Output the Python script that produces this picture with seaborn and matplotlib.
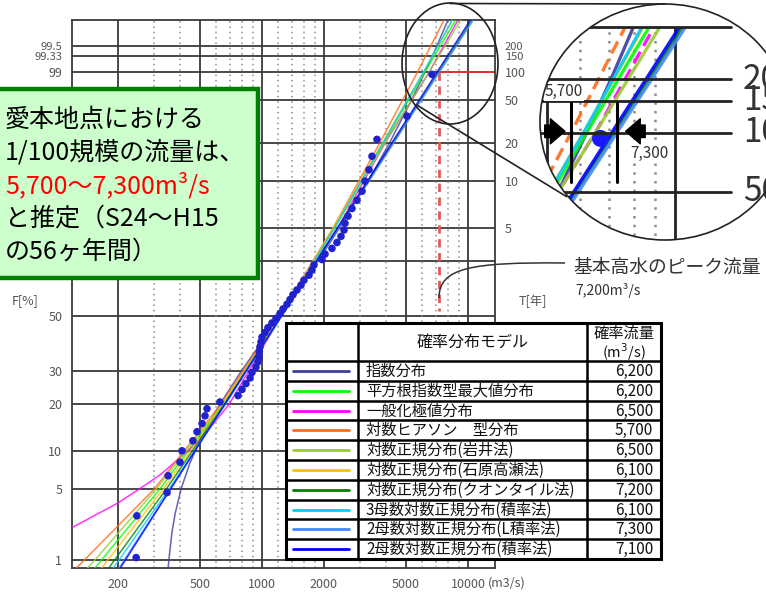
import math
import numpy as np
import pandas as pd
import seaborn as sns
import matplotlib
matplotlib.use("Agg")
import matplotlib.pyplot as plt
from matplotlib.patches import Rectangle, Ellipse, PathPatch
from matplotlib.path import Path
from matplotlib.lines import Line2D
from matplotlib.ticker import FixedLocator, FixedFormatter, NullLocator

W, H = 766, 594

# ---- observed annual peaks (plotting position %, flow m3/s) ----
obs_F = [1.07, 2.85, 4.63, 6.41, 8.19, 9.96, 11.74, 13.52, 15.30, 17.08,
         18.86, 20.64, 22.42, 24.20, 25.98, 27.76, 29.54, 31.32, 33.10, 34.88,
         36.65, 38.43, 40.21, 41.99, 43.77, 45.55, 47.33, 49.11, 50.89, 52.67,
         54.45, 56.23, 58.01, 59.79, 61.57, 63.35, 65.12, 66.90, 68.68, 70.46,
         72.24, 74.02, 75.80, 77.58, 79.36, 81.14, 82.92, 84.70, 86.48, 88.26,
         90.04, 91.81, 93.59, 95.37, 97.15, 98.93]
obs_Q = [245, 247, 346, 350, 400, 409, 462, 484, 512, 529,
         541, 625, 765, 800, 836, 875, 894, 935, 956, 967,
         970, 978, 989, 1000, 1034, 1069, 1118, 1170, 1223, 1265,
         1323, 1368, 1414, 1479, 1547, 1599, 1691, 1749, 1789, 1956,
         2023, 2187, 2313, 2419, 2502, 2529, 2616, 2735, 2893, 3060,
         3163, 3307, 3420, 3617, 5056, 6688]

# ---- fitted distributions ----
models = ["指数分布", "平方根指数型最大値分布", "一般化極値分布", "対数ヒアソン　型分布",
          "対数正規分布(岩井法)", "対数正規分布(石原高瀬法)", "対数正規分布(クオンタイル法)",
          "3母数対数正規分布(積率法)", "2母数対数正規分布(L積率法)", "2母数対数正規分布(積率法)"]
colors = ["#3c3c9c", "#00ff00", "#ff00ff", "#ff6a1a", "#99cc33",
          "#ffc000", "#008000", "#00ccff", "#4488ff", "#0000ff"]
q100 = ["6,200", "6,200", "6,500", "5,700", "6,500", "6,100", "7,200", "6,100", "7,300", "7,100"]

fit_F = [0.5, 1, 5, 20, 50, 80, 95, 99, 99.8]
exp_F = [0.8, 1, 2, 3, 5, 8, 12, 20, 30, 50, 70, 80, 90, 95, 98, 99, 99.5, 99.8]
exp_Q = [350, 353, 366, 379, 405, 446, 503, 624, 794, 1222, 1872, 2387, 3269, 4151, 5316, 6200, 7079, 8245]
gev_F = [1.5, 2.2, 3.75, 5, 6.5, 9, 12, 20, 50, 80, 95, 99, 99.8]
gev_Q = [80, 120, 200, 255, 320, 405, 505, 692, 1240, 2340, 3950, 6500, 9300]
sqet_Q = [130, 166, 320, 646, 1225, 2234, 3890, 6200, 9080]
lp3_Q = [102, 137, 301, 630, 1215, 2218, 3724, 5700, 7930]
iwai_Q = [118, 154, 308, 644, 1245, 2270, 3954, 6500, 9640]
ishi_Q = [142, 178, 333, 649, 1230, 2223, 3836, 6100, 8770]
quan_Q = [156, 192, 344, 656, 1245, 2339, 4306, 7200, 10940]
ln3_Q = [164, 202, 355, 665, 1236, 2254, 3855, 6100, 8710]
ln2l_Q = [177, 214, 359, 660, 1250, 2367, 4355, 7300, 11100]
ln2m_Q = [180, 217, 361, 659, 1240, 2332, 4259, 7100, 10740]

curves = [(exp_F, exp_Q), (fit_F, sqet_Q), (gev_F, gev_Q), (fit_F, lp3_Q),
          (fit_F, iwai_Q), (fit_F, ishi_Q), (fit_F, quan_Q), (fit_F, ln3_Q),
          (fit_F, ln2l_Q), (fit_F, ln2m_Q)]

grid_F = [1, 5, 10, 20, 30, 50, 70, 80, 90, 95, 98, 99, 99.333, 99.5]
F_ticks = [1, 5, 10, 20, 30, 50, 99, 99.333, 99.5]
F_labels = ["1", "5", "10", "20", "30", "50", "99", "99.33", "99.5"]
T_ticks = [80, 90, 95, 98, 99, 99.333, 99.5]
T_labels = ["5", "10", "20", "50", "100", "150", "200"]
x_ticks = [200, 500, 1000, 2000, 5000, 10000]
x_labels = ["200", "500", "1000", "2000", "5000", "10000"]
x_solid = [200, 500, 1000, 2000, 5000, 10000]
x_dotted = [300, 400, 600, 700, 800, 900, 1200, 1400, 1600, 1800,
            3000, 4000, 6000, 7000, 8000, 9000]
Q_basic = 7200

# ---- normal probability scale ----
_A = [-3.969683028665376e+01, 2.209460984245205e+02, -2.759285104469687e+02,
      1.383577518672690e+02, -3.066479806614716e+01, 2.506628277459239e+00]
_B = [-5.447609879822406e+01, 1.615858368580409e+02, -1.556989798598866e+02,
      6.680131188771972e+01, -1.328068155288572e+01]
_C = [-7.784894002430293e-03, -3.223964580411365e-01, -2.400758277161838e+00,
      -2.549732539343734e+00, 4.374664141464968e+00, 2.938163982698783e+00]
_D = [7.784695709041462e-03, 3.224671290700398e-01, 2.445134137142996e+00,
      3.754408661907416e+00]


def probit(F):
    shape = np.shape(F)
    p = np.clip(np.atleast_1d(np.asarray(F, dtype=float)) / 100.0, 1e-12, 1 - 1e-12)
    z = np.empty_like(p)
    lo = p < 0.02425
    hi = p > 1 - 0.02425
    mid = ~(lo | hi)
    q = p[mid] - 0.5
    r = q * q
    z[mid] = (((((_A[0]*r+_A[1])*r+_A[2])*r+_A[3])*r+_A[4])*r+_A[5])*q / \
             (((((_B[0]*r+_B[1])*r+_B[2])*r+_B[3])*r+_B[4])*r+1)
    q = np.sqrt(-2*np.log(p[lo]))
    z[lo] = (((((_C[0]*q+_C[1])*q+_C[2])*q+_C[3])*q+_C[4])*q+_C[5]) / \
            ((((_D[0]*q+_D[1])*q+_D[2])*q+_D[3])*q+1)
    q = np.sqrt(-2*np.log(1-p[hi]))
    z[hi] = -(((((_C[0]*q+_C[1])*q+_C[2])*q+_C[3])*q+_C[4])*q+_C[5]) / \
             ((((_D[0]*q+_D[1])*q+_D[2])*q+_D[3])*q+1)
    return z.reshape(shape)


_erf = np.vectorize(math.erf, otypes=[float])


def probit_inv(z):
    return 50.0 * (1 + _erf(np.asarray(z, dtype=float) / math.sqrt(2)))


def fr(x0, y0, x1, y1):
    return [x0 / W, 1 - y1 / H, (x1 - x0) / W, (y1 - y0) / H]


def pt(x, y):
    return (x / W, 1 - y / H)


rows = []
for name, (F, Q) in zip(models, curves):
    for f, q in zip(F, Q):
        rows.append((name, f, q))
fits = pd.DataFrame(rows, columns=["model", "F", "Q"])
obs = pd.DataFrame({"Q": obs_Q, "F": obs_F})
palette = dict(zip(models, colors))

sns.set_theme(style="white")
plt.rcParams["font.family"] = ["Noto Sans CJK JP", "DejaVu Sans"]
plt.rcParams["axes.unicode_minus"] = False

fig = plt.figure(figsize=(W / 100, H / 100), dpi=100)
fig.patch.set_facecolor("white")

# ---- main probability plot ----
ax = fig.add_axes(fr(72, 20, 495, 568))
sns.lineplot(data=fits, x="Q", y="F", hue="model", hue_order=models, palette=palette,
             sort=False, estimator=None, legend=False, lw=1.1, alpha=0.8, zorder=3, ax=ax)
sns.scatterplot(data=obs, x="Q", y="F", color="#2222cc", s=30, edgecolor="none",
                zorder=5, legend=False, ax=ax)
ax.set_xscale("log")
ax.set_yscale("function", functions=(probit, probit_inv))
ax.set_xlim(119.6, 13530)
ax.set_ylim(0.8198, 99.759)
ax.set_xlabel("")
ax.set_ylabel("")

for f in grid_F:
    ax.axhline(f, color="#3a3a3a", lw=1.3, zorder=1)
for q in x_solid:
    ax.axvline(q, color="#3a3a3a", lw=1.3, zorder=1)
for q in x_dotted:
    ax.axvline(q, color="#8c8c8c", lw=1.1, ls=(0, (1, 2.5)), zorder=1)

# basic high water reference
ax.plot([Q_basic, 13530], [99, 99], color="#e83030", lw=1.4, zorder=2)
ax.plot([Q_basic, Q_basic], [99, 52], color="#e05a5a", lw=2.0, ls=(0, (3, 2)), zorder=2)

ax.xaxis.set_major_locator(FixedLocator(x_ticks))
ax.xaxis.set_major_formatter(FixedFormatter(x_labels))
ax.xaxis.set_minor_locator(NullLocator())
ax.yaxis.set_major_locator(FixedLocator(F_ticks))
ax.yaxis.set_major_formatter(FixedFormatter(F_labels))
ax.yaxis.set_minor_locator(NullLocator())
ax.tick_params(length=0, labelsize=9, labelcolor="#555555", pad=7)
for s in ax.spines.values():
    s.set_color("#3a3a3a")
    s.set_linewidth(1.3)

ax2 = ax.twinx()
ax2.set_yscale("function", functions=(probit, probit_inv))
ax2.set_ylim(0.8198, 99.759)
ax2.yaxis.set_major_locator(FixedLocator(T_ticks))
ax2.yaxis.set_major_formatter(FixedFormatter(T_labels))
ax2.yaxis.set_minor_locator(NullLocator())
ax2.tick_params(length=0, labelsize=9, labelcolor="#555555", pad=7)
for s in ax2.spines.values():
    s.set_visible(False)
ax2.grid(False)

# the crowded labels at the top of the paper are a little smaller
fig.canvas.draw()
for lbl in ax.get_yticklabels():
    if lbl.get_text() in ("99.33", "99.5"):
        lbl.set_fontsize(8)
for lbl in ax2.get_yticklabels():
    if lbl.get_text() in ("150", "200"):
        lbl.set_fontsize(8)

fig.text(*pt(12, 301), "F[%]", fontsize=9, color="#555555", va="center", ha="left")
fig.text(*pt(519, 301), "T[年]", fontsize=9, color="#555555", va="center", ha="left")
fig.text(*pt(488, 583), "(m3/s)", fontsize=9, color="#555555", va="center", ha="left")

# ---- callout for the basic high water ----
fig.text(*pt(573, 267), "基本高水のピーク流量", fontsize=13.5, color="#333333", va="center", ha="left")
fig.text(*pt(575, 290), "7,200m³/s", fontsize=10, color="#333333", va="center", ha="left")
verts = [pt(565, 263), pt(470, 262), pt(439, 268), pt(439, 298)]
fig.add_artist(PathPatch(Path(verts, [Path.MOVETO, Path.CURVE4, Path.CURVE4, Path.CURVE4]),
                         fill=False, ec="#333333", lw=1.1, transform=fig.transFigure, zorder=6))

# ---- legend table ----
tab = fig.add_axes(fr(286, 323, 661, 559))
tab.set_xlim(0, 375)
tab.set_ylim(236, 0)
tab.axis("off")
tab.add_patch(Rectangle((0, 0), 375, 236, fc="white", ec="black", lw=2.2, clip_on=False))
tab.plot([72, 72], [0, 236], color="black", lw=1.8, clip_on=False)
tab.plot([301, 301], [0, 236], color="black", lw=1.8, clip_on=False)
tab.text(186.5, 19, "確率分布モデル", fontsize=11.5, ha="center", va="center", color="#111111")
tab.text(338, 10, "確率流量", fontsize=11, ha="center", va="center", color="#111111")
tab.text(338, 29, "(m$^3$/s)", fontsize=10.5, ha="center", va="center", color="#111111")
row_h = (236 - 38) / 10
for i, (name, c, v) in enumerate(zip(models, colors, q100)):
    y0 = 38 + row_h * i
    yc = y0 + row_h / 2
    tab.plot([0, 375], [y0, y0], color="black", lw=1.8, clip_on=False)
    tab.plot([7, 63], [yc, yc], color=c, lw=2.0)
    tab.text(80, yc + 0.5, name, fontsize=11, ha="left", va="center", color="#111111")
    tab.text(367, yc + 0.5, v, fontsize=11, ha="right", va="center", color="#111111")

# ---- green comment box ----
fig.add_artist(Rectangle(pt(-3, 278), 261 / W, 189 / H, transform=fig.transFigure,
                         fc="#ccffcc", ec="#008000", lw=3.2, zorder=10))
box_lines = [("愛本地点における", "black"), ("1/100規模の流量は、", "black"),
             ("5,700～7,300m³/s", "#ff0000"), ("と推定（S24～H15", "black"),
             ("の56ヶ年間）", "black")]
for k, (txt, c) in enumerate(box_lines):
    fig.text(*pt(5, 120 + 33 * k), txt, fontsize=18, color=c,
             va="center", ha="left", zorder=11)

# ---- magnifier: small ellipse on chart, big ellipse with enlarged view ----
fig.add_artist(Ellipse(pt(450, 63.5), 96 / W, 121 / H, transform=fig.transFigure,
                       fill=False, ec="#222222", lw=1.2, zorder=7))
fig.add_artist(Line2D([450 / W, 665 / W], [1 - 3.5 / H, 1 - 4 / H], transform=fig.transFigure,
                      color="#222222", lw=1.2, zorder=7))
fig.add_artist(Line2D([416.7 / W, 566.7 / W], [1 - 105 / H, 1 - 196.7 / H],
                      transform=fig.transFigure, color="#222222", lw=1.2, zorder=7))

ax_in = fig.add_axes(fr(540, 4, 790, 240))
sns.lineplot(data=fits, x="Q", y="F", hue="model", hue_order=models, palette=palette,
             style="model", style_order=models,
             dashes={m: ((4, 2) if m in (models[2], models[3]) else "") for m in models},
             sort=False, estimator=None, legend=False, lw=2.4, alpha=0.9, zorder=3, ax=ax_in)
sns.scatterplot(data=obs, x="Q", y="F", color="#1a1aff", s=150, edgecolor="none",
                zorder=5, legend=False, ax=ax_in)
ax_in.set_xscale("log")
ax_in.set_yscale("function", functions=(probit, probit_inv))
ax_in.set_xlim(4819, 18670)
ax_in.set_ylim(96.64, 99.827)
ax_in.axis("off")
ax_in.axhspan(99.759, 99.95, color="white", zorder=4.5)
for f in [98, 99, 99.333, 99.5, 99.759]:
    ax_in.plot([4000, 13530], [f, f], color="#222222", lw=2.0, zorder=5)
for q in [5000, 10000]:
    ax_in.plot([q, q], [90, 99.759], color="#222222", lw=2.0, zorder=1)
for q in [6000, 7000, 8000, 9000]:
    ax_in.plot([q, q], [90, 99.759], color="#8c8c8c", lw=1.8, ls=(0, (1, 2.5)), zorder=1)
for q in [5700, 7300]:
    ax_in.plot([q, q], [98.21, 99.315], color="black", lw=2.2, zorder=6)
arrow_style = "simple,head_length=0.7,head_width=1.2,tail_width=0.6"
ax_in.annotate("", xy=(5600, 99.02), xytext=(4870, 99.02),
               arrowprops=dict(arrowstyle=arrow_style, color="black", mutation_scale=15), zorder=7)
ax_in.annotate("", xy=(7550, 99.02), xytext=(8650, 99.02),
               arrowprops=dict(arrowstyle=arrow_style, color="black", mutation_scale=15), zorder=7)
ax_in.text(4951, 99.41, "5,700", fontsize=11, color="#333333", ha="left", va="center",
           zorder=7, bbox=dict(fc="white", ec="none", pad=0.5))
ax_in.text(7849, 98.71, "7,300", fontsize=11, color="#333333", ha="left", va="center",
           zorder=7, bbox=dict(fc="white", ec="none", pad=0.5))
for f, lab in zip([99.5, 99.333, 99, 98], ["200", "150", "100", "50"]):
    ax_in.text(14480, f, lab, fontsize=24, color="#333333", ha="left", va="center", zorder=4)

clip = Ellipse((0.5, 0.5), 1, 1, transform=ax_in.transAxes)
for art in ax_in.get_children():
    if isinstance(art, (Line2D, matplotlib.collections.Collection, matplotlib.text.Text,
                        matplotlib.patches.Polygon, matplotlib.patches.Rectangle)):
        if art is ax_in.patch:
            continue
        art.set_clip_on(True)
        art.set_clip_path(clip)
ax_in.add_patch(Ellipse((0.5, 0.5), 1, 1, transform=ax_in.transAxes, fill=False,
                        ec="#222222", lw=1.2, clip_on=False, zorder=8))

fig.savefig("out.png", dpi=100, facecolor="white")
